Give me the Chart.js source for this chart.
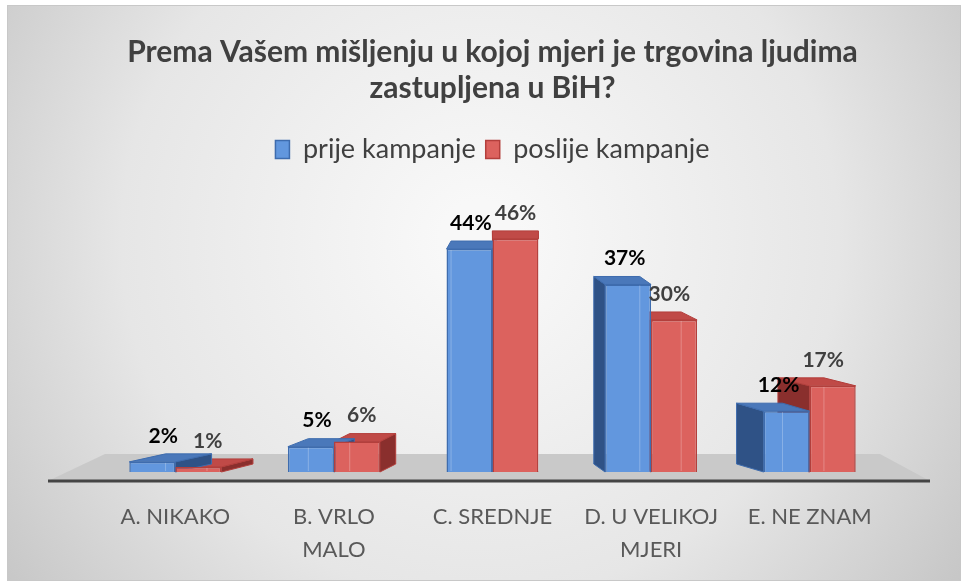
<!DOCTYPE html>
<html>
<head>
<meta charset="utf-8">
<script src="https://cdn.jsdelivr.net/npm/chart.js@4/dist/chart.umd.min.js"></script>
<style>
  body { margin: 0; background: #fff; }
  canvas { display: block; }
</style>
</head>
<body>
<canvas id="chart1" width="961" height="581"></canvas>
<script>
const categories = [
  "A. NIKAKO",
  ["B. VRLO", "MALO"],
  "C. SREDNJE",
  ["D. U VELIKOJ", "MJERI"],
  "E. NE ZNAM",
];
const prijeKampanje = [2, 5, 44, 37, 12];
const poslijeKampanje = [1, 6, 46, 30, 17];

const titleLines = ["Prema Vašem mišljenju u kojoj mjeri je trgovina ljudima", "zastupljena u BiH?"];

// colours for front / top / side of the "3d" columns
const looks = [
  { front: "#6297de", border: "#3e6cae", top: "#4a78ba", side: "#2f5286", label: "#000000" },
  { front: "#dc625e", border: "#b33f3c", top: "#c04a47", side: "#8a2f2d", label: "#404040" },
];

const frame = {
  id: "frame",
  beforeDraw(chart) {
    const c = chart.ctx;
    c.save();
    c.fillStyle = "#ffffff";
    c.fillRect(0, 0, chart.width, chart.height);
    const g = c.createRadialGradient(480, 240, 40, 480, 240, 620);
    g.addColorStop(0, "#f8f8f8");
    g.addColorStop(0.55, "#e6e6e6");
    g.addColorStop(1, "#c2c2c2");
    c.fillStyle = g;
    c.fillRect(7, 5, chart.width - 7, chart.height - 5);
    c.strokeStyle = "#c8c8c8";
    c.lineWidth = 1;
    c.strokeRect(7.5, 5.5, chart.width - 8, chart.height - 6);
    c.restore();
  },
};

function depthOf(cx) {
  return { dx: (515 - cx) * 0.1, dy: -8 };
}

const bars3d = {
  id: "bars3d",
  beforeDatasetsDraw(chart) {
    const c = chart.ctx;
    const base = chart.scales.y.getPixelForValue(0);
    // floor
    c.save();
    c.fillStyle = "#c9c9c9";
    c.beginPath();
    c.moveTo(48, base + 9);
    c.lineTo(105, base - 18);
    c.lineTo(880, base - 18);
    c.lineTo(930, base + 9);
    c.closePath();
    c.fill();
    c.strokeStyle = "#454545";
    c.lineWidth = 3;
    c.beginPath();
    c.moveTo(48, base + 9);
    c.lineTo(930, base + 9);
    c.stroke();

    // top and side faces, back dataset first
    for (let d = chart.data.datasets.length - 1; d >= 0; d--) {
      const look = looks[d];
      chart.getDatasetMeta(d).data.forEach((bar) => {
        const w = bar.width;
        const x0 = bar.x - w / 2, x1 = bar.x + w / 2, top = bar.y;
        const { dx, dy } = depthOf(bar.x);
        c.strokeStyle = look.border;
        c.lineWidth = 1;
        // side
        c.fillStyle = look.side;
        c.beginPath();
        const sx = dx > 0 ? x1 : x0;
        c.moveTo(sx, top);
        c.lineTo(sx + dx, top + dy);
        c.lineTo(sx + dx, base + dy);
        c.lineTo(sx, base);
        c.closePath();
        c.fill();
        c.stroke();
        // top
        c.fillStyle = look.top;
        c.beginPath();
        c.moveTo(x0, top);
        c.lineTo(x1, top);
        c.lineTo(x1 + dx, top + dy);
        c.lineTo(x0 + dx, top + dy);
        c.closePath();
        c.fill();
        c.stroke();
      });
    }
    c.restore();
  },
  afterDatasetsDraw(chart) {
    const c = chart.ctx;
    c.save();
    c.font = "bold 21px Lato";
    c.textAlign = "center";
    c.textBaseline = "middle";
    chart.data.datasets.forEach((ds, d) => {
      const look = looks[d];
      chart.getDatasetMeta(d).data.forEach((bar, i) => {
        const w = bar.width;
        const { dx } = depthOf(bar.x);
        // faint inner edge seen through the front
        c.strokeStyle = "rgba(255,255,255,0.25)";
        c.lineWidth = 1;
        c.beginPath();
        const ix = dx > 0 ? bar.x - w / 2 + dx : bar.x + w / 2 + dx;
        c.moveTo(ix, bar.y + 1);
        c.lineTo(ix, bar.base - 1);
        c.stroke();
        c.fillStyle = look.label;
        c.fillText(ds.data[i] + "%", bar.x + dx * 0.3, bar.y - 26);
      });
    });
    c.restore();
  },
};

new Chart(document.getElementById("chart1"), {
  type: "bar",
  data: {
    labels: categories,
    datasets: [
      {
        label: "prije kampanje",
        data: prijeKampanje,
        backgroundColor: looks[0].front,
        borderColor: looks[0].border,
        borderWidth: 1.5,
      },
      {
        label: "poslije kampanje",
        data: poslijeKampanje,
        backgroundColor: looks[1].front,
        borderColor: looks[1].border,
        borderWidth: 1.5,
      },
    ],
  },
  options: {
    responsive: false,
    animation: false,
    devicePixelRatio: 1,
    categoryPercentage: 0.58,
    barPercentage: 1,
    layout: { padding: { left: 96, right: 72, top: 0, bottom: -5 } },
    plugins: {
      title: {
        display: true,
        text: titleLines,
        color: "#404040",
        font: { family: "Lato", size: 30, weight: "bold", lineHeight: 1.2 },
        padding: { top: 34, bottom: 20 },
      },
      legend: {
        display: true,
        labels: {
          color: "#404040",
          font: { family: "Lato", size: 27 },
          boxWidth: 14,
          boxHeight: 18,
          padding: 10,
        },
      },
      tooltip: { enabled: false },
    },
    scales: {
      x: {
        grid: { display: false },
        border: { display: false },
        ticks: {
          color: "#595959",
          font: { family: "Lato", size: 22, lineHeight: 1.5 },
          padding: 20,
          maxRotation: 0,
        },
      },
      y: {
        display: false,
        min: 0,
        max: 59,
      },
    },
  },
  plugins: [frame, bars3d],
});
</script>
</body>
</html>
